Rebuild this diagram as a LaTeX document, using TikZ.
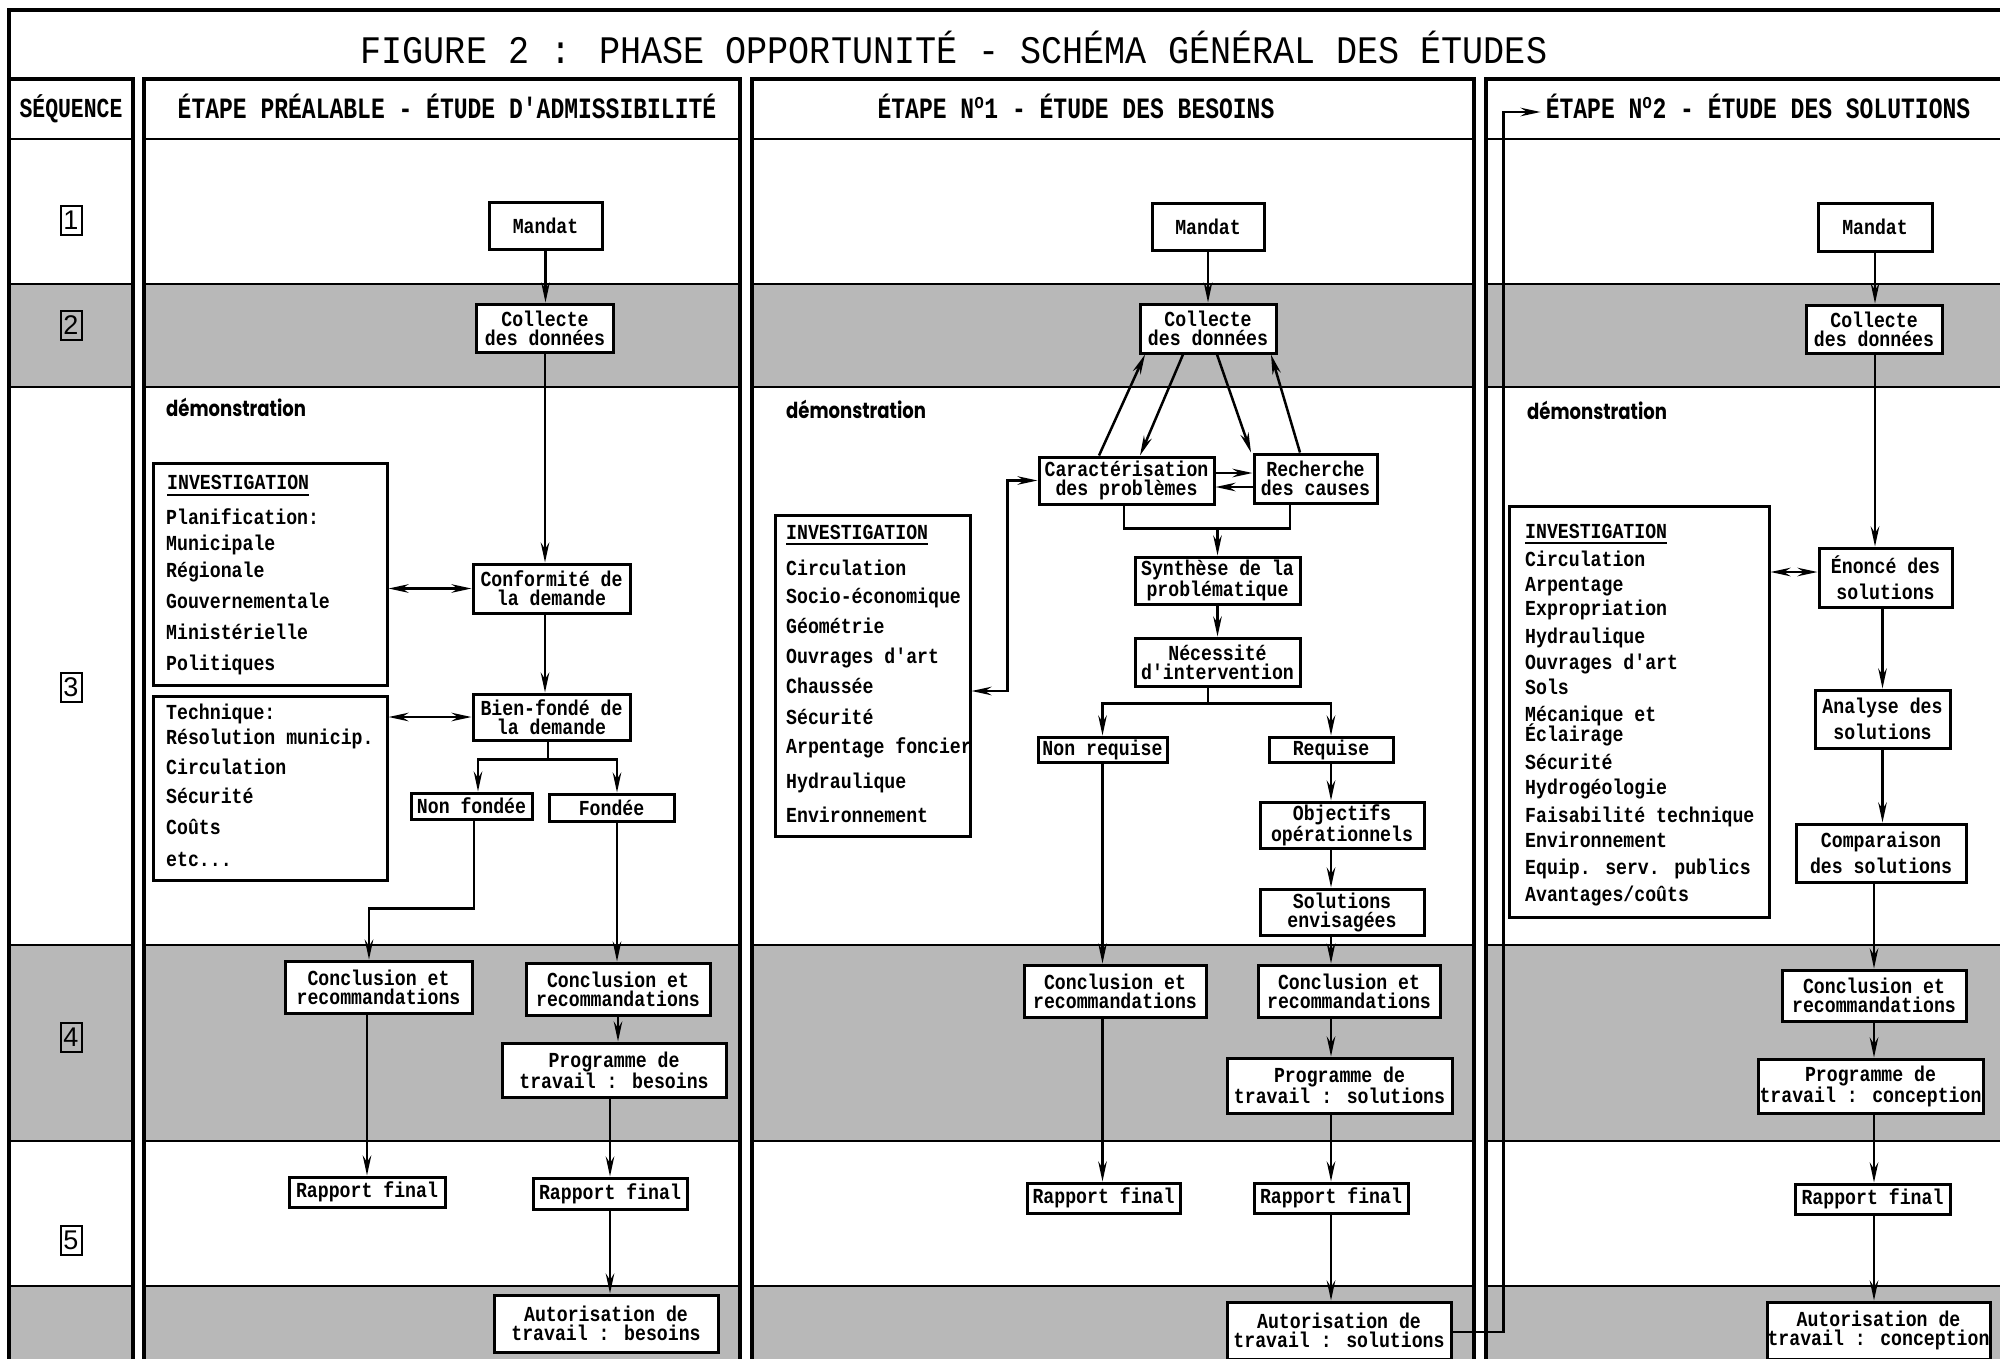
\documentclass[tikz,border=0pt]{standalone}
\usepackage{fontspec}
\newfontfamily\boxfont{Liberation Mono}[FakeStretch=0.85]
\newfontfamily\headfont{Liberation Mono}[FakeStretch=0.78]
\newfontfamily\titlefont{Liberation Mono}[FakeStretch=0.9]
\newfontfamily\demofont{Poppins}[FakeStretch=0.82]
\newfontfamily\numfont{Liberation Sans}
\usetikzlibrary{
	arrows.meta,
	positioning
}

\tikzset{
	procbox/.style={draw, line width=3pt, fill=white, inner sep=0pt, align=center,
		font=\boxfont\bfseries\fontsize{21.4}{19}\selectfont},
	loose/.style={font=\boxfont\bfseries\fontsize{21.4}{26}\selectfont},
	bx/.style 2 args={minimum width=#1pt, minimum height=#2pt},
	invbox/.style={draw, line width=3pt, inner sep=0pt},
	listitem/.style={anchor=base west, inner sep=0pt,
		font=\boxfont\bfseries\fontsize{21.4}{21.4}\selectfont},
	arr/.style={line width=2.5pt, -{Stealth[length=20pt, width=8.5pt]}},
	biarr/.style={line width=2.5pt, {Stealth[length=20pt, width=8.5pt]}-{Stealth[length=20pt, width=8.5pt]}},
	link/.style={line width=2.5pt},
	colframe/.style={line width=3.5pt},
	rowline/.style={line width=2.5pt},
	greyrow/.style={fill=black!28},
	hdr/.style={anchor=base, inner sep=0pt, font=\headfont\bfseries\fontsize{29.5}{29.5}\selectfont},
	ttl/.style={anchor=base, inner sep=0pt, font=\titlefont\fontsize{39}{39}\selectfont},
	demo/.style={anchor=base west, inner sep=0pt, font=\demofont\bfseries\fontsize{22}{22}\selectfont},
	seqnum/.style={draw, line width=2pt, inner sep=0pt, minimum width=21pt, minimum height=29pt,
		font=\numfont\fontsize{27}{27}\selectfont}
}

\begin{document}
\begin{tikzpicture}[x=1pt, y=-1pt]
	\def\colbot{1400}
	\useasboundingbox (0,0) rectangle (2000,1358);
	\fill[white] (0,0) rectangle (2000,1358);

	% bandes grisees et cadres des colonnes
	\foreach \xl/\xr in {9/133, 144/740, 752/1474, 1486/2030} {
		\fill[greyrow] (\xl,284) rectangle (\xr,387);
		\fill[greyrow] (\xl,945) rectangle (\xr,1141);
		\fill[greyrow] (\xl,1286) rectangle (\xr,\colbot);
		\foreach \yr in {139, 284, 387, 945, 1141, 1286}
			\draw[rowline] (\xl,\yr) -- (\xr,\yr);
		\draw[colframe] (\xl,79) rectangle (\xr,\colbot);
	}
	\draw[colframe] (9,79) -- (9,10) -- (2030,10);

	% titres
	\node[ttl] (title) at (954,63) {FIGURE 2 : PHASE OPPORTUNITÉ - SCHÉMA GÉNÉRAL DES ÉTUDES};
	\node[hdr, font=\headfont\bfseries\fontsize{27.5}{27.5}\selectfont] (hdr0) at (71,117) {SÉQUENCE};
	\node[hdr] (hdr1) at (447,118) {ÉTAPE PRÉALABLE - ÉTUDE D'ADMISSIBILITÉ};
	\node[hdr] (hdr2) at (1076,118) {ÉTAPE N\textsuperscript{o}1 - ÉTUDE DES BESOINS};
	\node[hdr] (hdr3) at (1758,118) {ÉTAPE N\textsuperscript{o}2 - ÉTUDE DES SOLUTIONS};

	\foreach \yy [count=\i] in {220, 325, 687, 1037, 1240}
		\node[seqnum] (seq\i) at (71,\yy) {\i};

	\node[demo] (demo1) at (166,416) {démonstration};
	\node[demo] (demo2) at (786,418) {démonstration};
	\node[demo] (demo3) at (1527,419) {démonstration};

	% etape prealable
	\node[procbox, bx={113}{47}] (m1) at (545.5,225.5) {Mandat};
	\node[procbox, bx={137}{48}] (c1) at (545,328) {Collecte\\des données};
	\node[procbox, bx={157}{49}] (conf) at (551.5,588.5) {Conformité de\\la demande};
	\node[procbox, bx={157}{46}] (bien) at (551.5,717) {Bien-fondé de\\la demande};
	\node[procbox, bx={121}{26}] (nonf) at (471.5,806) {Non fondée};
	\node[procbox, bx={125}{27}] (fond) at (611.5,807.5) {Fondée};
	\node[procbox, bx={187}{52}] (concl1a) at (378.5,987) {Conclusion et\\recommandations};
	\node[procbox, bx={184}{52}] (concl1b) at (618,989) {Conclusion et\\recommandations};
	\node[procbox, bx={224}{54}] (prog1) at (614,1070) {Programme de\\travail : besoins};
	\node[procbox, bx={156}{30}] (rap1a) at (367,1192) {Rapport final};
	\node[procbox, bx={154}{31}] (rap1b) at (610,1193.5) {Rapport final};
	\node[procbox, bx={224}{57}] (auto1) at (606,1323.5) {Autorisation de\\travail : besoins};

	\node[invbox, bx={234}{222}] (inv1) at (270,574) {};
	\node[invbox, bx={234}{184}] (tech1) at (270,788) {};
	\node[listitem] (inv1h) at (167,489) {INVESTIGATION};
	\draw[link] ([yshift=-6pt]inv1h.base west) -- ([yshift=-6pt]inv1h.base east);
	\foreach \yy/\txt [count=\i] in {524/Planification:, 550/Municipale, 577/Régionale,
			608/Gouvernementale, 639/Ministérielle, 670/Politiques}
		\node[listitem] (inva-\i) at (166,\yy) {\txt};
	\foreach \yy/\txt [count=\i] in {719/Technique:, 744/{Résolution municip.}, 774/Circulation,
			803/Sécurité, 834/Coûts, 866/{etc...}}
		\node[listitem] (invb-\i) at (166,\yy) {\txt};

	% etape 1
	\node[procbox, bx={112}{47}] (m2) at (1208,226.5) {Mandat};
	\node[procbox, bx={136}{49}] (c2) at (1208,328.5) {Collecte\\des données};
	\node[procbox, bx={175}{47}] (car) at (1126.5,480.5) {Caractérisation\\des problèmes};
	\node[procbox, bx={123}{49}] (rec) at (1315.5,478.5) {Recherche\\des causes};
	\node[procbox, bx={165}{47}] (syn) at (1217.5,580.5) {Synthèse de la\\problématique};
	\node[procbox, bx={165}{48}] (nec) at (1217.5,662) {Nécessité\\d'intervention};
	\node[procbox, bx={129}{25}] (nonr) at (1102.5,749.5) {Non requise};
	\node[procbox, bx={124}{25}] (req) at (1331,749.5) {Requise};
	\node[procbox, bx={164}{46}] (obj) at (1342,825) {Objectifs\\opérationnels};
	\node[procbox, bx={164}{46}] (sol) at (1342,912) {Solutions\\envisagées};
	\node[procbox, bx={182}{52}] (concl2a) at (1115,991) {Conclusion et\\recommandations};
	\node[procbox, bx={182}{52}] (concl2b) at (1349,991) {Conclusion et\\recommandations};
	\node[procbox, bx={225}{55}] (prog2) at (1339.5,1085.5) {Programme de\\travail : solutions};
	\node[procbox, bx={153}{30}] (rap2a) at (1103.5,1198) {Rapport final};
	\node[procbox, bx={154}{30}] (rap2b) at (1331,1198) {Rapport final};
	\node[procbox, bx={224}{57}] (auto2) at (1339,1330.5) {Autorisation de\\travail : solutions};

	\node[invbox, bx={195}{321}] (inv2) at (872.5,675.5) {};
	\node[listitem] (inv2h) at (786,539) {INVESTIGATION};
	\draw[link] ([yshift=-5pt]inv2h.base west) -- ([yshift=-5pt]inv2h.base east);
	\foreach \yy/\txt [count=\i] in {575/Circulation, 603/Socio-économique, 633/Géométrie,
			663/Ouvrages d'art, 693/Chaussée, 724/Sécurité, 753/Arpentage foncier,
			788/Hydraulique, 822/Environnement}
		\node[listitem] (invc-\i) at (786,\yy) {\txt};

	% etape 2
	\node[procbox, bx={114}{48}] (m3) at (1875,227) {Mandat};
	\node[procbox, bx={136}{48}] (c3) at (1874,329) {Collecte\\des données};
	\node[procbox, loose, bx={133}{59}] (eno) at (1885.5,577.5) {Énoncé des\\solutions};
	\node[procbox, loose, bx={135}{58}] (ana) at (1882.5,719) {Analyse des\\solutions};
	\node[procbox, loose, bx={170}{58}] (comp) at (1881,853) {Comparaison\\des solutions};
	\node[procbox, bx={184}{51}] (concl3) at (1874,995.5) {Conclusion et\\recommandations};
	\node[procbox, bx={225}{54}] (prog3) at (1870.5,1086) {Programme de\\travail : conception};
	\node[procbox, bx={155}{30}] (rap3) at (1872.5,1199) {Rapport final};
	\node[procbox, bx={223}{57}] (auto3) at (1878.5,1330.5) {Autorisation de\\travail : conception};

	\node[invbox, bx={260}{411}] (inv3) at (1639,711.5) {};
	\node[listitem] (inv3h) at (1525,538) {INVESTIGATION};
	\draw[link] ([yshift=-5pt]inv3h.base west) -- ([yshift=-5pt]inv3h.base east);
	\foreach \yy/\txt [count=\i] in {566/Circulation, 591/Arpentage, 615/Expropriation,
			643/Hydraulique, 669/Ouvrages d'art, 694/Sols, 721/Mécanique et, 741/Éclairage,
			769/Sécurité, 794/Hydrogéologie, 822/Faisabilité technique, 847/Environnement,
			874/{Equip. serv. publics}, 901/{Avantages/coûts}}
		\node[listitem] (invd-\i) at (1525,\yy) {\txt};

	% liaisons etape prealable
	\draw[arr] (m1.south) -- (m1.south |- c1.north);
	\draw[arr] (c1.south) -- (c1.south |- conf.north);
	\draw[arr] (c1.south |- conf.south) -- (c1.south |- bien.north);
	\draw[biarr] (inv1.east |- conf.west) -- (conf.west);
	\draw[biarr] (tech1.east |- bien.west) -- (bien.west);
	\draw[link] ([xshift=-3.5pt]bien.south) -- ++(0,18) coordinate (b1);
	\draw[arr] (b1) -| ([xshift=6.5pt]nonf.north);
	\draw[arr] (b1) -| ([xshift=5.5pt]fond.north);
	\draw[arr] ([xshift=2.5pt]nonf.south) -- ++(0,88) -| ([xshift=-9.5pt]concl1a.north);
	\draw[arr] ([xshift=5.5pt]fond.south) -- ([xshift=5.5pt]fond.south |- concl1b.north);
	\draw[arr] (rap1a.north |- concl1a.south) -- (rap1a.north);
	\draw[arr] (concl1b.south) -- (concl1b.south |- prog1.north);
	\draw[arr] (rap1b.north |- prog1.south) -- (rap1b.north);
	\draw[arr] (rap1b.south) -- (rap1b.south |- auto1.north);

	% liaisons etape 1
	\draw[arr] (m2.south) -- (c2.north);
	\draw[arr] ([xshift=-27.5pt]car.north) -- ([xshift=-63pt]c2.south);
	\draw[arr] ([xshift=-25pt]c2.south) -- ([xshift=13.5pt]car.north);
	\draw[arr] ([xshift=9pt]c2.south) -- ([xshift=-64.5pt]rec.north);
	\draw[arr] ([xshift=-15.5pt]rec.north) -- ([xshift=63pt]c2.south);
	\draw[arr] ([yshift=7.5pt]car.east) -- ([yshift=7.5pt]car.east -| rec.west);
	\draw[arr] ([yshift=-6.5pt]car.east -| rec.west) -- ([yshift=-6.5pt]car.east);
	\draw[link] ([xshift=-2.5pt]car.south) -- ++(0,23) coordinate (j2) -| ([xshift=-25.5pt]rec.south);
	\draw[arr] (j2 -| syn.north) -- (syn.north);
	\draw[arr] (syn.south) -- (nec.north);
	\draw[link] ([xshift=-9.5pt]nec.south) -- ++(0,16) coordinate (b2);
	\draw[arr] (b2) -| (nonr.north);
	\draw[arr] (b2) -| (req.north);
	\draw[arr] (req.south) -- (req.south |- obj.north);
	\draw[arr] (req.south |- obj.south) -- (req.south |- sol.north);
	\draw[arr] (req.south |- sol.south) -- (req.south |- concl2b.north);
	\draw[arr] (req.south |- concl2b.south) -- (req.south |- prog2.north);
	\draw[arr] (req.south |- prog2.south) -- (req.south |- rap2b.north);
	\draw[arr] (req.south |- rap2b.south) -- (req.south |- auto2.north);
	\draw[arr] (nonr.south) -- (nonr.south |- concl2a.north);
	\draw[arr] (nonr.south |- concl2a.south) -- (nonr.south |- rap2a.north);
	\draw[biarr] ([yshift=-15.5pt]inv2.east) -- ++(36,0) |- (car.west);
	\draw[arr] ([yshift=-1.5pt]auto2.east) -- ++(51,0) |- ([xshift=-5pt, yshift=6pt]hdr3.base west);

	% liaisons etape 2
	\draw[arr] (m3.south) -- (m3.south |- c3.north);
	\draw[arr] (m3.south |- c3.south) -- (m3.south |- eno.north);
	\draw[arr] (ana.north |- eno.south) -- (ana.north);
	\draw[arr] (ana.south) -- (ana.south |- comp.north);
	\draw[arr] (concl3.north |- comp.south) -- (concl3.north);
	\draw[arr] (concl3.south) -- (concl3.south |- prog3.north);
	\draw[arr] (concl3.south |- prog3.south) -- (concl3.south |- rap3.north);
	\draw[arr] (concl3.south |- rap3.south) -- (concl3.south |- auto3.north);
	\draw[biarr] ([yshift=5.5pt]inv3.east |- eno.west) -- ([yshift=5.5pt]eno.west);
\end{tikzpicture}
\end{document}
